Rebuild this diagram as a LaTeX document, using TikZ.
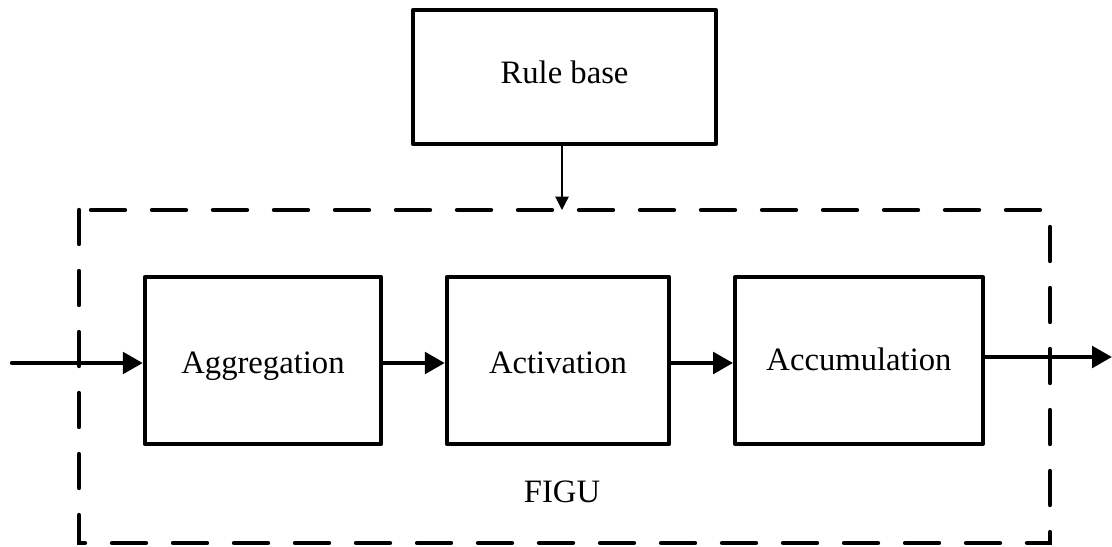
\documentclass[tikz,border=0pt]{standalone}
\usepackage{fontspec}
\setmainfont{Liberation Serif}
\usetikzlibrary{arrows.meta}
\begin{document}
\begin{tikzpicture}[x=0.75pt,y=-0.75pt,
  blk/.style={draw,line width=3.3pt,line join=round,inner sep=0pt,
    font=\fontsize{24.5}{29}\selectfont},
  conn/.style={line width=3.3pt,-{Triangle[length=15pt,width=16pt]}},
  thinconn/.style={line width=0.9pt,-{Triangle[length=10pt,width=10pt]}},
  dashbox/.style={line width=3.3pt,line cap=round,dash pattern=on 25.5pt off 20.25pt},
  lbl/.style={font=\fontsize{24.5}{29}\selectfont,inner sep=0pt}]
\useasboundingbox (0,0) rectangle (1112,546);
% dashed group
\draw[dashbox] (79,210) rectangle (1050,543);
% blocks
\node[blk,minimum width=227pt,minimum height=100.5pt,text height=12pt,text depth=3pt] (rb) at (564.5,77) {Rule base};
\node[blk,minimum width=177pt,minimum height=125.25pt,text height=20pt,text depth=1.25pt] (agg) at (263,360.5) {Aggregation};
\node[blk,minimum width=166.5pt,minimum height=125.25pt,text height=20pt,text depth=1.25pt] (act) at (558,360.5) {Activation};
\node[blk,minimum width=185.6pt,minimum height=125.25pt,text height=16pt,text depth=1.75pt] (acc) at (859,360.5) {Accumulation};
\node[lbl,anchor=base] (figu) at (562,502) {FIGU};
% connector ends
\coordinate (in) at (12,363);
\coordinate (out) at (1112,357);
\coordinate (rbin) at (562,210);
% connectors
\draw[line cap=round,conn] (in) -- (in -| agg.west);
\draw[conn] (agg.east |- in) -- (act.west |- in);
\draw[conn] (act.east |- in) -- (acc.west |- in);
\draw[conn] (acc.east |- out) -- (out);
\draw[thinconn] (rb.south -| rbin) -- (rbin);
\end{tikzpicture}
\end{document}
